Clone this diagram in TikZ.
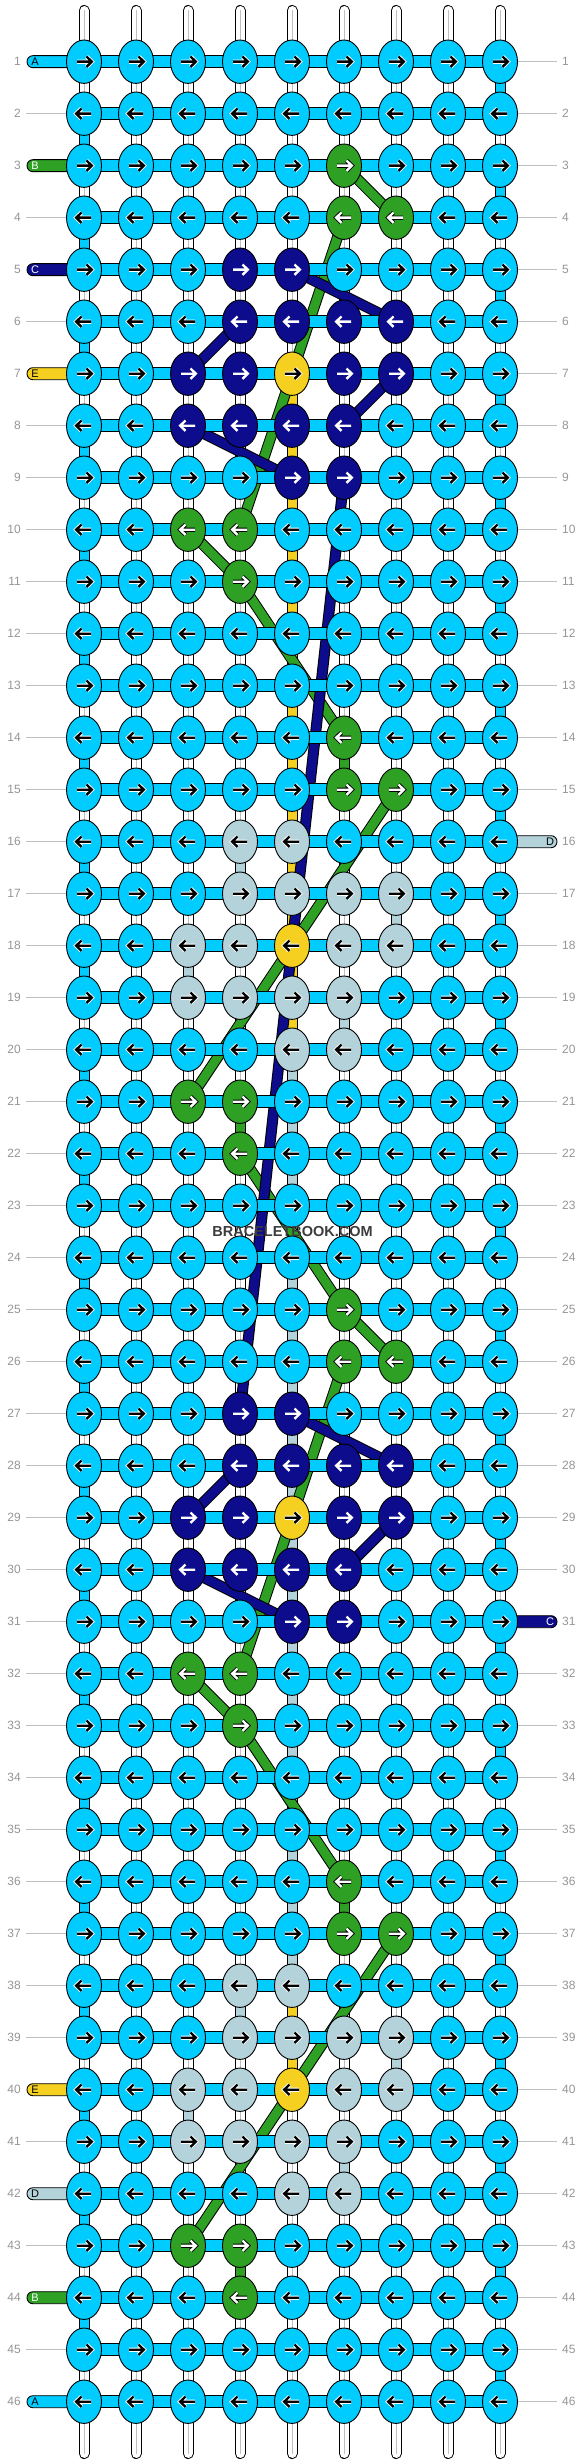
\documentclass[tikz,border=0pt]{standalone}
\usepackage{fontspec}
\setmainfont{Liberation Sans}
\usetikzlibrary{shapes.geometric}
\definecolor{cA}{RGB}{0,204,255}
\definecolor{cB}{RGB}{46,160,36}
\definecolor{cC}{RGB}{12,12,140}
\definecolor{cD}{RGB}{180,210,218}
\definecolor{cE}{RGB}{245,208,32}
\definecolor{numgray}{RGB}{150,150,150}
\definecolor{linegray}{RGB}{190,190,190}
\definecolor{wmark}{RGB}{60,60,60}
\newcommand\setknot[3]{\expandafter\xdef\csname kc-#1-#2\endcsname{#3}}
\expandafter\def\csname ar-cA\endcsname{black}\expandafter\def\csname ah-cA\endcsname{white}
\expandafter\def\csname ar-cB\endcsname{white}\expandafter\def\csname ah-cB\endcsname{black}
\expandafter\def\csname ar-cC\endcsname{white}\expandafter\def\csname ah-cC\endcsname{cC}
\expandafter\def\csname ar-cD\endcsname{black}\expandafter\def\csname ah-cD\endcsname{white}
\expandafter\def\csname ar-cE\endcsname{black}\expandafter\def\csname ah-cE\endcsname{white}
\newcommand\strand[3]{\draw[black,line width=11] (#2)--(#3);\draw[#1,line width=9] (#2)--(#3);}
\begin{document}
\begin{tikzpicture}[x=1pt,y=-1pt,
  knot/.style={ellipse,draw=black,line width=0.9pt,minimum width=35pt,minimum height=43.4pt,inner sep=0pt},
  bar/.style={fill=cA,draw=black,line width=0.9pt},
  arrowline/.style={line cap=butt,line join=miter},
  num/.style={text=numgray,font=\fontsize{12}{14}\selectfont,inner sep=0pt},
  pill/.style={draw=black,line width=0.9pt,rounded corners=5.9pt},
  plet/.style={font=\fontsize{11}{12}\selectfont,inner sep=0pt}]
\useasboundingbox (0,0) rectangle (584,2464);
\fill[white] (0,0) rectangle (584,2464);
% knot positions
\foreach \r in {1,...,46}{\foreach \c in {1,...,9}{
  \coordinate (p-\r-\c) at ({32+52*\c},{9.7+52*\r});}}
% colours of the knots
\foreach \o in {0,22}{
 \foreach \r/\c/\k in {3/6/cB,4/6/cB,4/7/cB,
  5/4/cC,5/5/cC,6/4/cC,6/5/cC,6/6/cC,6/7/cC,
  7/3/cC,7/4/cC,7/5/cE,7/6/cC,7/7/cC,
  8/3/cC,8/4/cC,8/5/cC,8/6/cC,9/5/cC,9/6/cC,
  10/3/cB,10/4/cB,11/4/cB,14/6/cB,15/6/cB,15/7/cB,
  16/4/cD,16/5/cD,17/4/cD,17/5/cD,17/6/cD,17/7/cD,
  18/3/cD,18/4/cD,18/5/cE,18/6/cD,18/7/cD,
  19/3/cD,19/4/cD,19/5/cD,19/6/cD,20/5/cD,20/6/cD,
  21/3/cB,21/4/cB,22/4/cB}{
  \pgfmathtruncatemacro\rr{\r+\o}\setknot{\rr}{\c}{\k}}}
% base strings
\foreach \c in {1,...,9}{
  \coordinate (t-\c) at ({32+52*\c},10.5);
  \coordinate (b-\c) at ({32+52*\c},2453.5);
  \draw[black,line width=11,line cap=round] (t-\c)--(b-\c);
  \draw[white,line width=9,line cap=round] (t-\c)--(b-\c);
  \draw[linegray,line width=1] (t-\c)--(b-\c);}
% yellow string E
\strand{cE}{p-7-5}{p-18-5}
\strand{cE}{p-18-5}{p-29-5}
\strand{cE}{p-29-5}{p-40-5}
% light string D
\foreach \a/\b in {p-16-4/p-17-4,p-17-7/p-18-7,p-18-3/p-19-3,p-19-6/p-20-6,p-20-5/p-38-5,
  p-38-4/p-39-4,p-39-7/p-40-7,p-40-3/p-41-3,p-41-6/p-42-6}{\strand{cD}{\a}{\b}}
% green string B
\foreach \a/\b in {p-3-6/p-4-7,p-4-6/p-10-4,p-10-3/p-11-4,p-11-4/p-14-6,p-14-6/p-15-6,
  p-15-7/p-21-3,p-21-4/p-22-4,p-22-4/p-25-6,p-25-6/p-26-7,p-26-6/p-32-4,p-32-3/p-33-4,
  p-33-4/p-36-6,p-36-6/p-37-6,p-37-7/p-43-3,p-43-4/p-44-4}{\strand{cB}{\a}{\b}}
% dark blue string C
\foreach \a/\b in {p-5-5/p-6-7,p-6-4/p-7-3,p-7-7/p-8-6,p-8-3/p-9-5,p-9-6/p-27-4,
  p-27-5/p-28-7,p-28-4/p-29-3,p-29-7/p-30-6,p-30-3/p-31-5}{\strand{cC}{\a}{\b}}
% turns of string A at the edges
\foreach \r in {1,...,45}{
  \pgfmathtruncatemacro\rn{\r+1}
  \pgfmathtruncatemacro\tc{ifthenelse(mod(\r,2)==1,9,1)}
  \draw[black,line width=11] (p-\r-\tc)--(p-\rn-\tc);
  \draw[cA,line width=9] (p-\r-\tc)--(p-\rn-\tc);}
% horizontal bars of string A
\foreach \r in {1,...,46}{\foreach \c [evaluate=\c as \cn using int(\c+1)] in {1,...,8}{
  \draw[bar] ([yshift=6pt]p-\r-\c) rectangle ([yshift=-6pt]p-\r-\cn);}}
% left side: labels or lines
\foreach \r/\l/\k/\t in {1/A/cA/black,3/B/cB/white,5/C/cC/white,7/E/cE/black,
  40/E/cE/black,42/D/cD/black,44/B/cB/white,46/A/cA/black}{
  \draw[pill,fill=\k] ([xshift=-57pt,yshift=6pt]p-\r-1) rectangle ([yshift=-6pt]p-\r-1);
  \node[plet,text=\t] (ll-\r) at ([xshift=-49pt]p-\r-1) {\l};}
\foreach \r in {2,4,6,8,9,...,39,41,43,45}{
  \draw[linegray,line width=1] ([xshift=-58pt]p-\r-1) -- ([xshift=-18pt]p-\r-1);}
% right side
\foreach \r/\l/\k/\t in {16/D/cD/black,31/C/cC/white}{
  \draw[pill,fill=\k] ([yshift=6pt]p-\r-9) rectangle ([xshift=57pt,yshift=-6pt]p-\r-9);
  \node[plet,text=\t] (lr-\r) at ([xshift=50pt]p-\r-9) {\l};}
\foreach \r in {1,...,15,17,18,...,30,32,33,...,46}{
  \draw[linegray,line width=1] ([xshift=18pt]p-\r-9) -- ([xshift=57pt]p-\r-9);}
% row numbers
\foreach \r in {1,...,46}{
  \node[num,anchor=east] (nl-\r) at ([xshift=-63pt]p-\r-1) {\r};
  \node[num,anchor=west] (nr-\r) at ([xshift=62pt]p-\r-9) {\r};}
% knots
\foreach \r in {1,...,46}{
 \pgfmathtruncatemacro\dir{ifthenelse(mod(\r,2)==1,1,-1)}
 \foreach \c in {1,...,9}{
  \ifcsname kc-\r-\c\endcsname\edef\kcol{\csname kc-\r-\c\endcsname}\else\def\kcol{cA}\fi
  \edef\acol{\csname ar-\kcol\endcsname}\edef\ahal{\csname ah-\kcol\endcsname}
  \node[knot,fill=\kcol] (k-\r-\c) at (p-\r-\c) {};
  \begin{scope}[shift={(p-\r-\c)},xscale=\dir]
   \draw[\ahal,arrowline,line width=4.2] (-7,0)--(7.5,0) (2.5,-5.2)--(7.8,0)--(2.5,5.2);
   \draw[\acol,arrowline,line width=2.4] (-7,0)--(7.5,0) (2.5,-5.2)--(7.8,0)--(2.5,5.2);
  \end{scope}
 }}
% watermark
\node[font=\bfseries\fontsize{14.5}{16}\selectfont,text=wmark,inner sep=0pt] (wm) at (292.5,1231.7) {BRACELETBOOK.COM};
\end{tikzpicture}
\end{document}
